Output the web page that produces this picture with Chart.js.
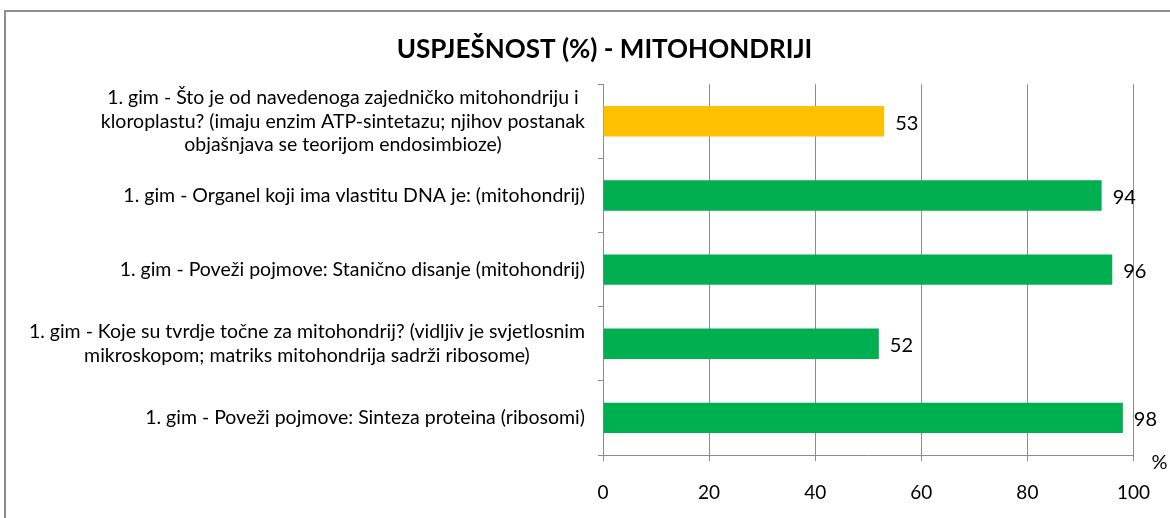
<!DOCTYPE html>
<html>
<head>
<meta charset="utf-8">
<script src="https://cdn.jsdelivr.net/npm/chart.js@4"></script>
<style>
  html, body { margin: 0; padding: 0; background: #fff; }
  #wrap { position: relative; width: 1170px; height: 518px; overflow: hidden; }
  #frame { position: absolute; left: 4px; top: 10px; width: 1300px; height: 700px; border: 2px solid #8f8f8f; box-sizing: border-box; }
  canvas { position: absolute; left: 0; top: 0; }
</style>
</head>
<body>
<div id="wrap">
  <div id="frame"></div>
  <canvas id="c" width="1170" height="518"></canvas>
</div>
<script>
const chartTitle = "USPJEŠNOST (%) - MITOHONDRIJI";
const categories = [
  ["1. gim - Što je od navedenoga zajedničko mitohondriju i", "kloroplastu? (imaju enzim ATP-sintetazu; njihov postanak", "objašnjava se teorijom endosimbioze)"],
  ["1. gim - Organel koji ima vlastitu DNA je: (mitohondrij)"],
  ["1. gim - Poveži pojmove: Stanično disanje (mitohondrij)"],
  ["1. gim - Koje su tvrdje točne za mitohondrij? (vidljiv je svjetlosnim", "mikroskopom; matriks mitohondrija sadrži ribosome)"],
  ["1. gim - Poveži pojmove: Sinteza proteina (ribosomi)"]
];
const values = [53, 94, 96, 52, 98];
const barColors = ["#FFC000", "#00B050", "#00B050", "#00B050", "#00B050"];
const xTicks = [0, 20, 40, 60, 80, 100];
const unitLabel = "%";

const FONT = "Lato, 'Open Sans', sans-serif";
const GRID = "#8c8c8c";
const PAD_LEFT = 70;

const labelPlugin = {
  id: 'customLabels',
  afterDraw(chart) {
    const ctx = chart.ctx;
    const ys = chart.scales.y;
    const xs = chart.scales.x;
    ctx.save();
    // category labels: each block right-aligned to axis, lines centered within block
    ctx.font = "19.5px " + FONT;
    ctx.fillStyle = "#000";
    ctx.textBaseline = "middle";
    ctx.textAlign = "center";
    const lh = 23.5;
    categories.forEach((lines, i) => {
      const cy = ys.getPixelForValue(i);
      let w = 0;
      lines.forEach(l => { w = Math.max(w, ctx.measureText(l).width); });
      const cx = ys.right - 18 - w / 2;
      const y0 = cy - (lines.length - 1) * lh / 2;
      lines.forEach((l, k) => ctx.fillText(l, cx, y0 + k * lh));
    });
    // value labels
    ctx.font = "20px " + FONT;
    ctx.textAlign = "left";
    const meta = chart.getDatasetMeta(0);
    meta.data.forEach((bar, i) => {
      ctx.fillText(String(values[i]), bar.x + 11, bar.y + 2);
    });
    // unit label
    ctx.textAlign = "center";
    ctx.fillText(unitLabel, xs.right + 26, xs.top + 8);
    ctx.restore();
  }
};

new Chart(document.getElementById('c'), {
  type: 'bar',
  data: {
    labels: categories,
    datasets: [{
      data: values,
      backgroundColor: barColors,
      borderWidth: 0,
      barPercentage: 0.41,
      categoryPercentage: 1.0
    }]
  },
  options: {
    indexAxis: 'y',
    responsive: false,
    animation: false,
    devicePixelRatio: 1,
    layout: { padding: { left: PAD_LEFT, right: 31, top: 0, bottom: 0 } },
    plugins: {
      legend: { display: false },
      tooltip: { enabled: false },
      title: {
        display: true,
        text: chartTitle,
        color: "#000",
        font: { family: FONT, size: 26, weight: 'bold', lineHeight: 1.2 },
        padding: { top: 34, bottom: 19 }
      }
    },
    scales: {
      x: {
        min: 0, max: 100,
        afterBuildTicks(scale) { scale.ticks = xTicks.map(v => ({ value: v })); },
        afterFit(scale) { scale.height = 63; },
        grid: { color: GRID, lineWidth: 1, drawTicks: true, tickLength: 6, tickColor: GRID },
        border: { color: GRID, width: 1 },
        ticks: { color: "#000", font: { family: FONT, size: 19 }, padding: 20, maxRotation: 0 }
      },
      y: {
        afterFit(scale) { scale.width = 603 - PAD_LEFT; },
        grid: { display: true, drawOnChartArea: false, drawTicks: true, tickLength: 5, color: GRID, offset: true },
        border: { color: GRID, width: 1 },
        ticks: { display: false }
      }
    }
  },
  plugins: [labelPlugin]
});
</script>
</body>
</html>
